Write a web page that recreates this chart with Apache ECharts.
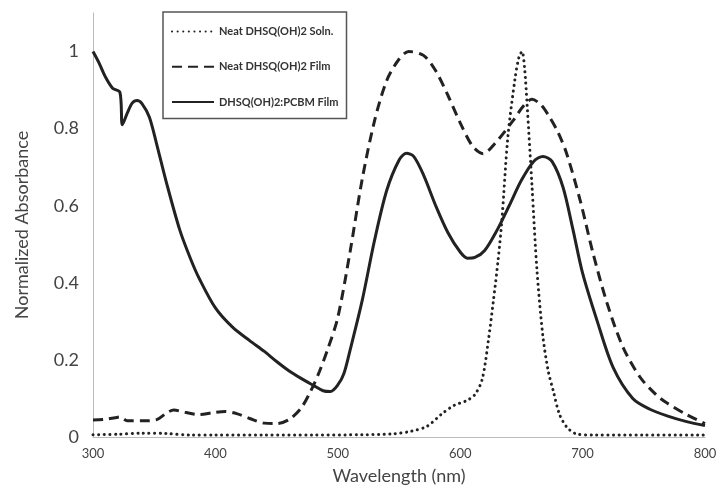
<!DOCTYPE html>
<html>
<head>
<meta charset="utf-8">
<script src="https://cdn.jsdelivr.net/npm/echarts@6/dist/echarts.min.js"></script>
<style>
  html, body { margin: 0; padding: 0; background: #fff; }
  #chart { width: 721px; height: 491px; }
</style>
</head>
<body>
<div id="chart"></div>
<script>
// Absorbance spectra, [wavelength (nm), normalized absorbance]
const solnSpectrum = [
  [300, 0.006], [320, 0.007], [340, 0.010], [360, 0.009], [380, 0.005], [400, 0.005],
  [440, 0.005], [480, 0.005], [520, 0.006], [545, 0.008], [560, 0.015], [573, 0.028],
  [585, 0.060], [595, 0.082], [605, 0.094], [612, 0.11], [618, 0.15], [623, 0.25],
  [627, 0.35], [631, 0.46], [634, 0.56], [639, 0.78], [644.8, 0.93], [648, 0.985],
  [650.5, 1.0], [652.5, 0.96], [654.6, 0.865], [658.7, 0.648], [662.7, 0.433],
  [667.6, 0.26], [672, 0.17], [676, 0.12], [681, 0.06], [687, 0.026], [695, 0.008],
  [710, 0.005], [750, 0.005], [800, 0.005]
];
const neatFilm = [
  [300, 0.044], [310, 0.046], [318, 0.05], [322, 0.052], [328, 0.042], [340, 0.042],
  [352, 0.045], [360, 0.062], [366, 0.07], [375, 0.064], [387, 0.058], [398, 0.063],
  [408, 0.066], [418, 0.06], [428, 0.048], [440, 0.036], [450, 0.035], [460, 0.045],
  [470, 0.075], [478, 0.12], [485, 0.17], [492, 0.23], [500, 0.31], [510, 0.48],
  [520, 0.67], [530, 0.82], [540, 0.925], [550, 0.98], [558, 1.0], [570, 0.99],
  [580, 0.95], [590, 0.886], [600, 0.815], [610, 0.755], [618.7, 0.735], [628, 0.76],
  [643, 0.82], [652, 0.86], [658.6, 0.876], [666, 0.862], [673, 0.83], [680, 0.79],
  [687, 0.735], [698, 0.614], [708.5, 0.477], [720, 0.347], [733, 0.233], [747, 0.155],
  [760, 0.11], [769, 0.088], [785, 0.058], [800, 0.035]
];
const blendFilm = [
  [300, 1.0], [305, 0.97], [310, 0.935], [316, 0.905], [322, 0.894], [324, 0.81],
  [328, 0.84], [332, 0.866], [336, 0.873], [340, 0.865], [346, 0.83], [352, 0.76],
  [360, 0.66], [371, 0.536], [380, 0.46], [387, 0.41], [400, 0.335], [414, 0.285],
  [428, 0.25], [440, 0.222], [450, 0.196], [460, 0.172], [470, 0.152], [480, 0.134],
  [488, 0.12], [494, 0.118], [500, 0.135], [505, 0.165], [510, 0.225], [520, 0.355],
  [530, 0.51], [540, 0.64], [550, 0.718], [556, 0.736], [562, 0.728], [570, 0.68],
  [580, 0.60], [590, 0.53], [600, 0.48], [606, 0.464], [612, 0.466], [620, 0.484],
  [630, 0.536], [640, 0.60], [650, 0.666], [660, 0.715], [667.6, 0.728], [675, 0.715],
  [684, 0.648], [692, 0.54], [700, 0.425], [712, 0.30], [725, 0.18], [741, 0.10],
  [755, 0.072], [769, 0.055], [785, 0.04], [800, 0.03]
];
const seriesNames = ['Neat DHSQ(OH)2 Soln.', 'Neat DHSQ(OH)2 Film', 'DHSQ(OH)2:PCBM Film'];

const ink = '#222';
const font = 'Lato, "Open Sans", sans-serif';

const chart = echarts.init(document.getElementById('chart'), null, { renderer: 'canvas' });
chart.setOption({
  animation: false,
  backgroundColor: '#fff',
  grid: { left: 93, right: 16, top: 13, bottom: 54 },
  legend: {
    show: true,
    orient: 'vertical',
    left: 163,
    top: 12,
    padding: [14, 8, 11, 8],
    itemGap: 24,
    itemWidth: 42,
    itemHeight: 14,
    borderColor: '#555',
    borderWidth: 1.5,
    backgroundColor: '#fff',
    itemStyle: { opacity: 0 },
    textStyle: { fontFamily: font, fontSize: 11, fontWeight: 'bold', color: '#333' },
    data: seriesNames
  },
  xAxis: {
    type: 'value',
    min: 300, max: 800, interval: 100,
    name: 'Wavelength (nm)',
    nameLocation: 'middle',
    nameGap: 30,
    nameTextStyle: { fontFamily: font, fontSize: 18, color: '#444' },
    axisLine: { lineStyle: { color: '#bbb', width: 1 } },
    axisTick: { show: false },
    splitLine: { show: false },
    axisLabel: { fontFamily: font, fontSize: 13, color: '#444', margin: 10 }
  },
  yAxis: {
    type: 'value',
    min: 0, max: 1.1, interval: 0.2,
    name: 'Normalized Absorbance',
    nameLocation: 'middle',
    nameGap: 62,
    nameTextStyle: { fontFamily: font, fontSize: 18, color: '#444' },
    axisLine: { show: true, lineStyle: { color: '#bbb', width: 1 } },
    axisTick: { show: false },
    splitLine: { show: false },
    axisLabel: { fontFamily: font, fontSize: 18, color: '#444', margin: 14, showMaxLabel: false }
  },
  series: [
    {
      name: seriesNames[0], type: 'line', data: solnSpectrum, symbol: 'none', smooth: 0.3,
      lineStyle: { color: ink, width: 3, type: [0.1, 5.5], cap: 'round' },
      itemStyle: { color: ink }
    },
    {
      name: seriesNames[1], type: 'line', data: neatFilm, symbol: 'none', smooth: 0.3,
      lineStyle: { color: ink, width: 3, type: [10, 6] },
      itemStyle: { color: ink }
    },
    {
      name: seriesNames[2], type: 'line', data: blendFilm, symbol: 'none', smooth: 0.3,
      lineStyle: { color: ink, width: 3 },
      itemStyle: { color: ink }
    }
  ]
});
</script>
</body>
</html>
